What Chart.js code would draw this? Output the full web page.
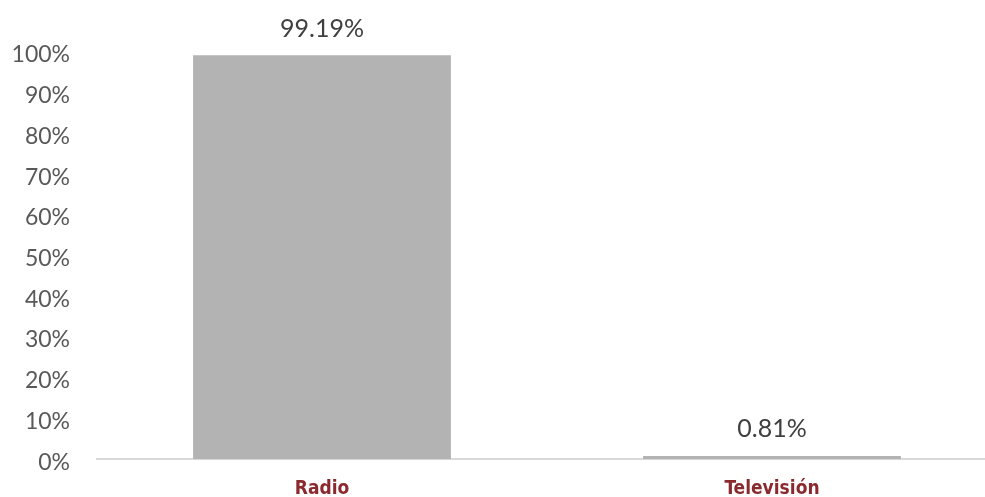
<!DOCTYPE html>
<html>
<head>
<meta charset="utf-8">
<script src="https://cdn.jsdelivr.net/npm/chart.js@4"></script>
<style>
  html, body { margin: 0; padding: 0; background: #fff; overflow: hidden; }
  #wrap { position: relative; width: 1000px; height: 500px; }
</style>
</head>
<body>
<div id="wrap"><canvas id="c"></canvas></div>
<script>
const categories = ["Radio", "Televisión"];
const values = [99.19, 0.81];
const valueLabels = ["99.19%", "0.81%"];
const yTicks = [0, 10, 20, 30, 40, 50, 60, 70, 80, 90, 100];

const dataLabelPlugin = {
  id: 'dataLabels',
  afterDatasetsDraw(chart) {
    const ctx = chart.ctx;
    const meta = chart.getDatasetMeta(0);
    ctx.save();
    ctx.font = '25px Lato';
    ctx.fillStyle = '#404040';
    ctx.textAlign = 'center';
    ctx.textBaseline = 'bottom';
    meta.data.forEach((bar, i) => {
      ctx.fillText(valueLabels[i], bar.x, bar.y - 14);
    });
    ctx.restore();
  }
};

new Chart(document.getElementById('c'), {
  type: 'bar',
  data: {
    labels: categories,
    datasets: [{
      data: values,
      backgroundColor: '#b3b3b3',
      borderWidth: 0,
      categoryPercentage: 1,
      barPercentage: 0.573
    }]
  },
  options: {
    responsive: true,
    maintainAspectRatio: false,
    animation: false,
    layout: { padding: { top: 52, left: 0, right: 3, bottom: 0 } },
    plugins: { legend: { display: false }, tooltip: { enabled: false } },
    scales: {
      y: {
        min: 0, max: 100,
        afterBuildTicks(scale) { scale.ticks = yTicks.map(v => ({ value: v })); },
        afterFit(scale) { scale.width = 97; },
        grid: { display: false, drawTicks: false },
        border: { display: false },
        ticks: {
          padding: 27,
          labelOffset: 3,
          color: '#595959',
          font: { family: 'Lato', size: 23 },
          callback: v => v + '%'
        }
      },
      x: {
        afterFit(scale) { scale.height = 38; },
        grid: { display: false, drawTicks: false },
        border: { display: true, color: '#d9d9d9', width: 2 },
        ticks: {
          padding: 18,
          color: '#8b2a2e',
          font: { family: "'DejaVu Sans Condensed', 'Liberation Sans'", size: 19, weight: 'bold' }
        }
      }
    }
  },
  plugins: [dataLabelPlugin]
});
</script>
</body>
</html>
